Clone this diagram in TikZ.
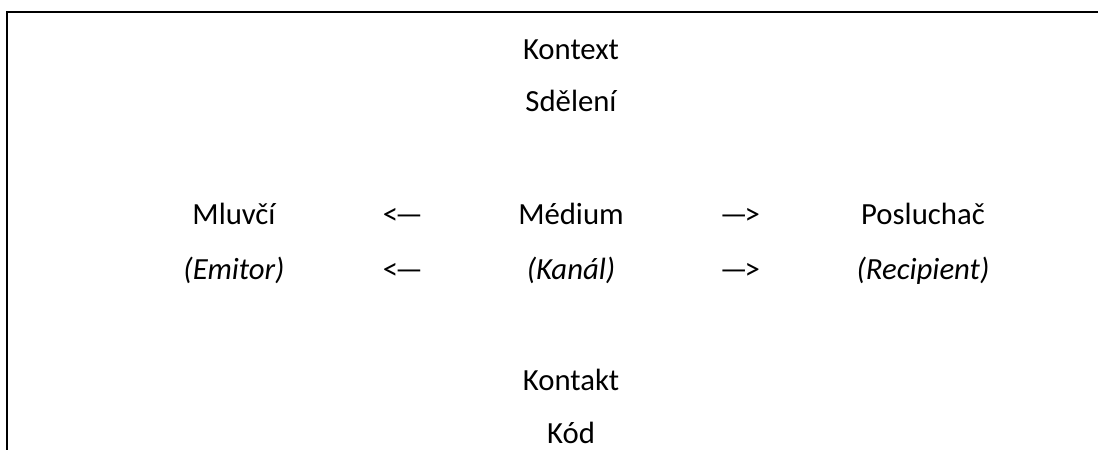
\documentclass[tikz,border=0pt]{standalone}
\usepackage{fontspec}
\setmainfont{Carlito}
\usetikzlibrary{positioning}

\begin{document}
\begin{tikzpicture}[x=0.02cm, y=0.02cm,
    word/.style={inner sep=0pt, anchor=base, font=\fontsize{17.5}{21}\selectfont},
    role/.style={word, font=\fontsize{17.5}{21}\selectfont\itshape}]

  % Define nodes

  \useasboundingbox (0,0) rectangle (1098,450);

  % Kontext and message
  \node[word] (kontext) at (571,390) {Kontext}; %
  \node[word] (sdeleni) at (571,338) {Sdělení}; %

  % middle row
  \node[word] (medium)    at (571,225) {Médium}; %
  \node[word] (mluvci)    at (234,225) {Mluvčí}; %
  \node[word] (posluchac) at (923,225) {Posluchač}; %
  \node[word] (sipka-l)   at (403,225) {<\kern-0.1em—}; %
  \node[word] (sipka-r)   at (740,225) {—\kern-0.1em>}; %

  % roles
  \node[role] (kanal)     at (571,171) {(Kanál)}; %
  \node[role] (emitor)    at (234,171) {(Emitor)}; %
  \node[role] (recipient) at (923,171) {(Recipient)}; %
  \node[word] (sipka-l2)  at (403,171) {<\kern-0.1em—}; %
  \node[word] (sipka-r2)  at (740,171) {—\kern-0.1em>}; %

  % Kontakt and code
  \node[word] (kontakt) at (571,60) {Kontakt}; %
  \node[word] (kod)     at (571,7)  {Kód}; %

  % frame
  \coordinate (ramec-r) at (1098,438);
  \coordinate (ramec-l) at (7,438);
  \coordinate (ramec-d) at (7,0);
  \draw[line width=1.7pt] (ramec-r) -- (ramec-l) -- (ramec-d);

\end{tikzpicture}
\end{document}
